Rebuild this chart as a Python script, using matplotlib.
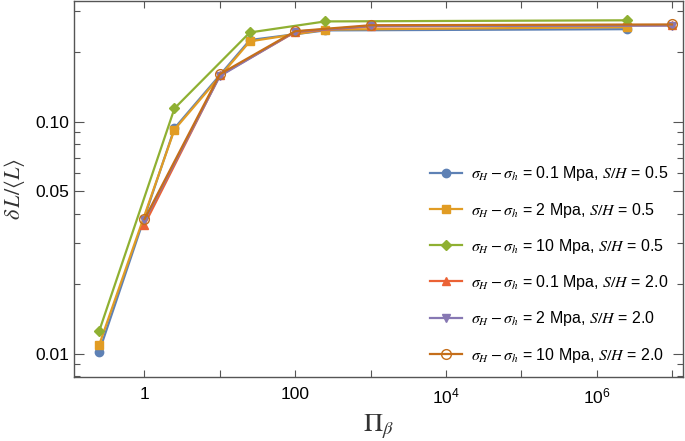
import numpy as np
import matplotlib.pyplot as plt
from matplotlib.ticker import FixedLocator, NullFormatter

plt.rcParams['font.family'] = ['Liberation Sans', 'DejaVu Sans']
plt.rcParams['mathtext.fontset'] = 'stix'

# x positions for the two S/H groups
x_sh05 = [0.25, 2.5, 25, 250, 2.5e6]
x_sh20 = [1, 10, 100, 1000, 1e7]

# dL/<L> values
y_01_05 = [0.0102, 0.0936, 0.2245, 0.247, 0.250]
y_2_05 = [0.0109, 0.0924, 0.2215, 0.249, 0.255]
y_10_05 = [0.0125, 0.114, 0.242, 0.270, 0.273]
y_01_20 = [0.036, 0.158, 0.243, 0.257, 0.260]
y_2_20 = [0.0375, 0.157, 0.244, 0.258, 0.259]
y_10_20 = [0.038, 0.160, 0.245, 0.260, 0.262]

labels = [
    r"$\sigma_H - \sigma_h$ = 0.1 Mpa, $S/H$ = 0.5",
    r"$\sigma_H - \sigma_h$ = 2 Mpa, $S/H$ = 0.5",
    r"$\sigma_H - \sigma_h$ = 10 Mpa, $S/H$ = 0.5",
    r"$\sigma_H - \sigma_h$ = 0.1 Mpa, $S/H$ = 2.0",
    r"$\sigma_H - \sigma_h$ = 2 Mpa, $S/H$ = 2.0",
    r"$\sigma_H - \sigma_h$ = 10 Mpa, $S/H$ = 2.0",
]

fig = plt.figure(figsize=(6.85, 4.41), dpi=100)
ax = fig.add_axes([74 / 685, 1 - 377 / 441, (683 - 74) / 685, 377 / 441 - 0.002])

ax.plot(x_sh05, y_01_05, '-o', color='#5E81B5', lw=1.6, ms=6, label=labels[0])
ax.plot(x_sh05, y_2_05, '-s', color='#E19C24', lw=1.6, ms=5.5, label=labels[1])
ax.plot(x_sh05, y_10_05, '-D', color='#8FB032', lw=1.6, ms=5, label=labels[2])
ax.plot(x_sh20, y_01_20, '-^', color='#EB6235', lw=1.6, ms=6, label=labels[3])
ax.plot(x_sh20, y_2_20, '-v', color='#8778B3', lw=1.6, ms=6, label=labels[4])
ax.plot(x_sh20, y_10_20, '-o', color='#C56E1A', lw=1.6, ms=7, mfc='none', label=labels[5])

ax.set_xscale('log')
ax.set_yscale('log')
ax.set_xlim(0.116, 10 ** 7.146)
ax.set_ylim(0.00794, 0.331)

ax.xaxis.set_major_locator(FixedLocator([1, 100, 1e4, 1e6]))
ax.set_xticklabels(['1', '100', r'$\mathdefault{10^4}$', r'$\mathdefault{10^6}$'])
ax.xaxis.set_minor_locator(FixedLocator([10, 1000, 1e5, 1e7]))
ax.xaxis.set_minor_formatter(NullFormatter())

ax.yaxis.set_major_locator(FixedLocator([0.01, 0.05, 0.10]))
ax.set_yticklabels(['0.01', '0.05', '0.10'])
ax.yaxis.set_minor_locator(FixedLocator([0.008, 0.009, 0.02, 0.03, 0.04, 0.06, 0.07,
                                         0.08, 0.09, 0.2, 0.3]))
ax.yaxis.set_minor_formatter(NullFormatter())

for s in ax.spines.values():
    s.set_color('#555555')
    s.set_linewidth(1.0)
ax.tick_params(which='both', direction='in', top=True, right=True,
               color='#555555', labelsize=12.5, labelcolor='black')
ax.tick_params(axis='x', which='major', length=5, width=0.8, pad=7)
ax.tick_params(axis='x', which='minor', length=5, width=0.8)
ax.tick_params(axis='y', which='major', length=7, width=0.8)
ax.tick_params(axis='y', which='minor', length=4, width=0.8)

ax.set_xlabel(r'$\Pi_\beta$', fontsize=19, color='#333333')
ax.set_ylabel(r'$\delta\, L/\langle L\rangle$', fontsize=16, color='#333333', labelpad=6)

ax.legend(loc='lower right', bbox_to_anchor=(1.0, -0.005), frameon=False,
          fontsize=11.5, labelspacing=1.08, handlelength=2.0, handletextpad=0.6)

fig.savefig('out.png', dpi=100)
